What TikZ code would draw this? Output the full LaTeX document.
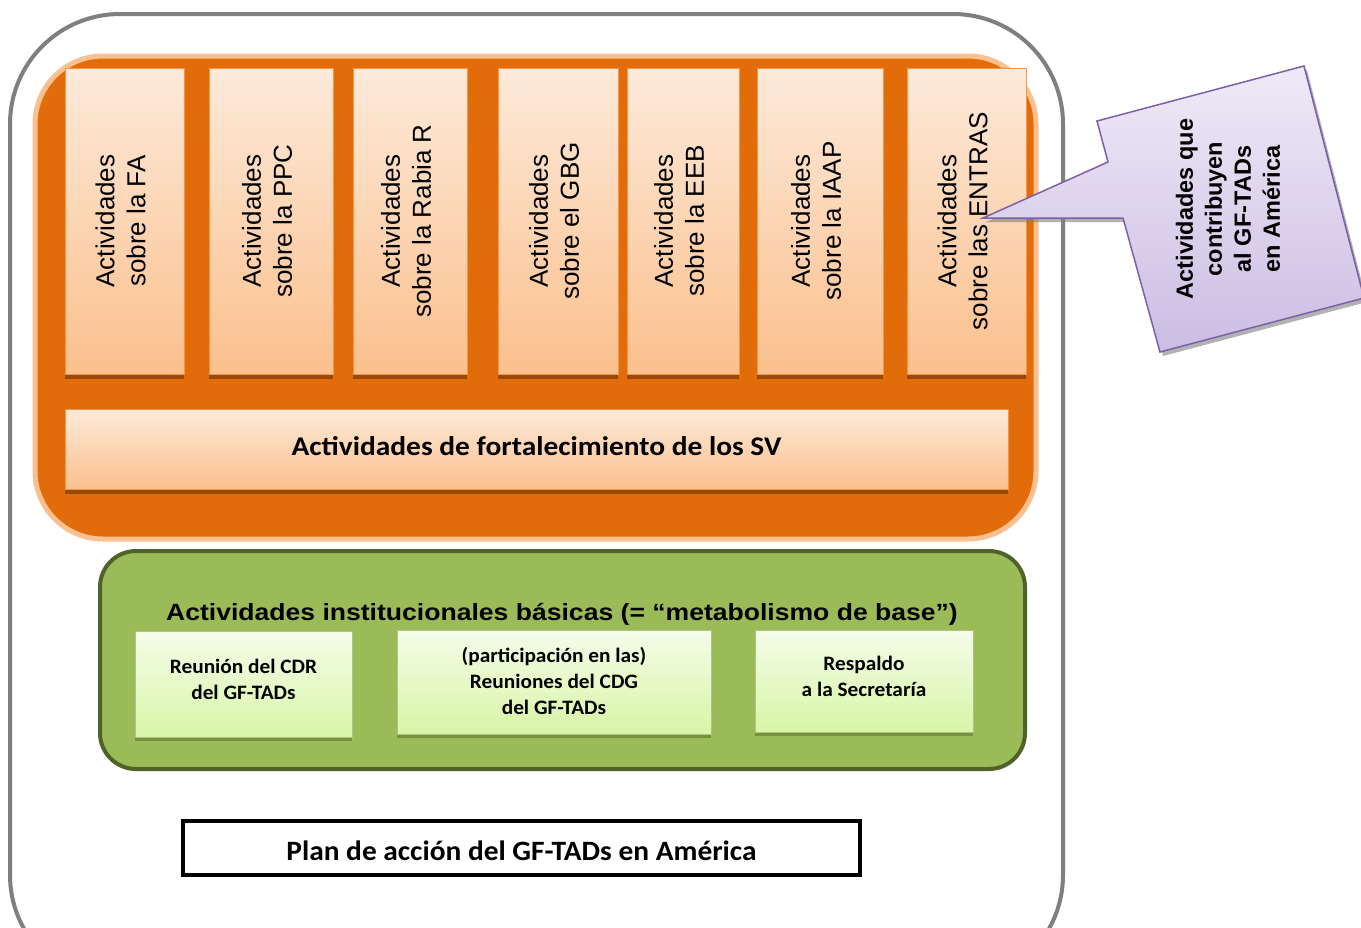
\documentclass[tikz,border=0pt]{standalone}
\usepackage{fontspec}
\setmainfont{Liberation Sans}
\newfontfamily\calibri{Carlito}
\usepackage{tikz}
\usetikzlibrary{shadows,positioning,calc}
\definecolor{framegray}{HTML}{7F7F7F}
\definecolor{panelorange}{HTML}{E36C0A}
\definecolor{panelrim}{HTML}{FAC08F}
\definecolor{boxtop}{HTML}{FDEADA}
\definecolor{boxbottom}{HTML}{FBC08D}
\definecolor{boxline}{HTML}{F79646}
\definecolor{boxshadow}{HTML}{984807}
\definecolor{panelgreen}{HTML}{9BBB59}
\definecolor{greenline}{HTML}{4F6228}
\definecolor{leaftop}{HTML}{F4FDEA}
\definecolor{leafbottom}{HTML}{D8F5A6}
\definecolor{leafshadow}{HTML}{76923C}
\definecolor{calltop}{HTML}{EFEAF7}
\definecolor{callbottom}{HTML}{CBBDE3}
\definecolor{callline}{HTML}{7C60A8}
\tikzset{
    frame/.style={draw=framegray, line width=4pt, rounded corners=110pt},
    orangepanel/.style={fill=panelorange, draw=panelrim, line width=5pt, rounded corners=68pt},
    greenpanel/.style={fill=panelgreen, draw=greenline, line width=4pt, rounded corners=36pt},
    colbox/.style={rectangle, inner sep=0pt, top color=boxtop, bottom color=boxbottom, draw=boxline, line width=1pt,
        drop shadow={shadow xshift=0pt, shadow yshift=-5pt, fill=boxshadow, opacity=1}},
    coltext/.style={rotate=90, align=center, font=\fontsize{26}{31}\selectfont},
    leafbox/.style={rectangle, inner sep=0pt, top color=leaftop, bottom color=leafbottom, draw=leafbottom!80!black, line width=0.6pt,
        drop shadow={shadow xshift=0pt, shadow yshift=-4pt, fill=leafshadow, opacity=1}},
    leaftext/.style={align=center, xscale=1.04, font=\calibri\bfseries\fontsize{20.5}{26}\selectfont},
    planbox/.style={draw=black, line width=4pt, fill=white, inner sep=0pt},
    callout/.style={draw=callline, line width=1.5pt, top color=calltop, bottom color=callbottom,
        drop shadow={shadow xshift=3pt, shadow yshift=-4pt, fill=black!50, opacity=.6}}
}
\begin{document}
\begin{tikzpicture}[x=1pt, y=-1pt]
    \useasboundingbox (0,0) rectangle (1361,927);
    \clip (0,0) rectangle (1361,927);
    \fill[white] (0,0) rectangle (1361,927);

    % Outer frame of the plan
    \draw[frame] (10,14) rectangle (1063,985);

    % Orange block: specific activities
    \draw[orangepanel] (35,56) rectangle (1036,539);
    \foreach \xa/\xb/\txt [count=\i] in {65/184/{la FA}, 209/333/{la PPC}, 353/467/{la Rabia R},
        498/618/{el GBG}, 627/739/{la EEB}, 757/883/{la IAAP}, 907/1026/{las ENTRAS}} {
        \node[colbox, minimum width={(\xb-\xa)*1pt}, minimum height=306pt] (col\i) at ({(\xa+\xb)/2},221) {};
        \node[coltext] (col\i text) at ([xshift=-4pt]col\i) {Actividades\\sobre \txt};
    }
    \node[colbox, minimum width=943pt, minimum height=80pt] (sv) at (536.5,449) {};
    \node[xscale=1.09, font=\calibri\bfseries\fontsize{27}{30}\selectfont] (svtext) at ([yshift=3pt]sv) {Actividades de fortalecimiento de los SV};

    % Green block: basic institutional activities
    \draw[greenpanel] (100,551) rectangle (1025,769);
    \node[xscale=1.13, font=\bfseries\fontsize{23.5}{28}\selectfont] (basic) at (562,614) {Actividades institucionales básicas (= “metabolismo de base”)};
    \node[leafbox, minimum width=217pt, minimum height=106pt] (cdr) at (243.5,684) {};
    \node[leaftext] at ([yshift=5pt]cdr) {Reunión del CDR\\del GF-TADs};
    \node[leafbox, minimum width=314pt, minimum height=104pt] (cdg) at (554,682) {};
    \node[leaftext] at ([yshift=1pt]cdg) {(participación en las)\\Reuniones del CDG\\del GF-TADs};
    \node[leafbox, minimum width=218pt, minimum height=102pt] (secr) at (864,681) {};
    \node[leaftext] at ([yshift=5pt]secr) {Respaldo\\a la Secretaría};

    % Plan label
    \node[planbox, minimum width=677pt, minimum height=54pt] (plan) at (521.5,848) {};
    \node[xscale=1.05, font=\calibri\bfseries\fontsize{28}{30}\selectfont] (plantext) at ([yshift=-3pt]plan) {Plan de acción del GF-TADs en América};

    % Callout pointing at the columns
    \coordinate (tip) at (983,218);
    \path[callout] (1097,121) -- (1304,66) -- (1364,298) -- (1160,352) -- (1123,218) -- (tip) -- (1108,162) -- cycle;
    \node[rotate=90, align=center, font=\bfseries\fontsize{23.5}{29}\selectfont] (calltext) at (1228,209)
        {Actividades que\\contribuyen\\al GF-TADs\\en América};
\end{tikzpicture}
\end{document}
